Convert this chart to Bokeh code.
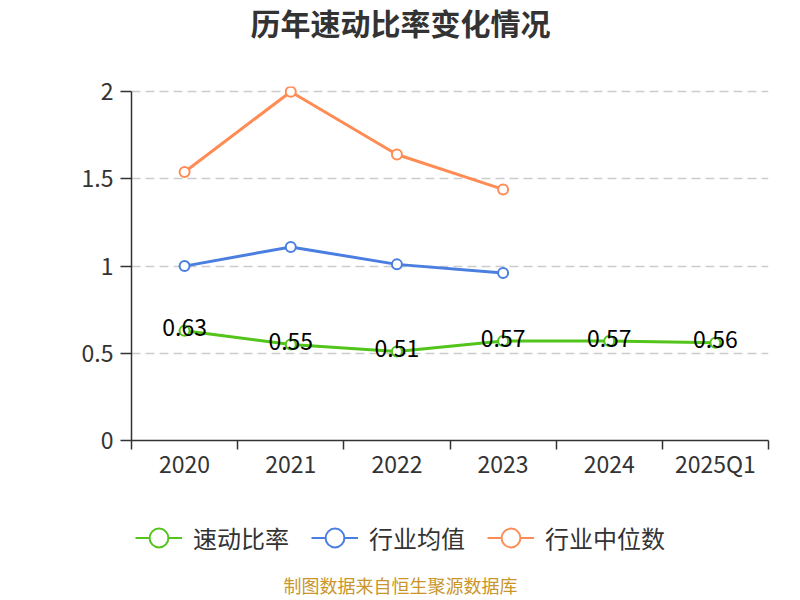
from bokeh.plotting import figure
from bokeh.layouts import column
from bokeh.models import (ColumnDataSource, FixedTicker, Range1d, Legend, LegendItem, Label)
from bokeh.core.properties import value
from bokeh.embed import file_html
from bokeh.resources import INLINE

categories = ["2020", "2021", "2022", "2023", "2024", "2025Q1"]
quick_ratio = [0.63, 0.55, 0.51, 0.57, 0.57, 0.56]
industry_mean = [1.00, 1.11, 1.01, 0.96]
industry_median = [1.54, 2.00, 1.64, 1.44]
y_ticks = [0, 0.5, 1, 1.5, 2]
y_tick_labels = ["0", "0.5", "1", "1.5", "2"]
series_names = ["速动比率", "行业均值", "行业中位数"]
title_text = "历年速动比率变化情况"
source_text = "制图数据来自恒生聚源数据库"

FONT = "Noto Sans CJK SC"
GREEN = "#52c41a"
BLUE = "#4a7ee0"
ORANGE = "#ff8c55"
W = 792
FL, FR = 131, 768  # frame left / right in page pixels


def blank(h):
    f = figure(width=W, height=h, output_backend="svg", toolbar_location=None,
               x_range=Range1d(FL, FR), y_range=Range1d(0, h),
               min_border_left=FL, min_border_right=W - FR,
               min_border_top=0, min_border_bottom=0)
    f.axis.visible = False
    f.grid.visible = False
    f.outline_line_color = None
    f.background_fill_color = "white"
    f.border_fill_color = "white"
    return f


# header with title
HH = 50
head = blank(HH)
head.add_layout(Label(x=400, y=HH - 21, text=title_text, text_align="center", text_baseline="middle",
                      text_font=FONT, text_font_size="30px", text_font_style="bold",
                      text_color="#333333"))

# main chart
xc = [i + 0.5 for i in range(len(categories))]
MH = 450
FTOP = 86
p = figure(width=W, height=MH, output_backend="svg", toolbar_location=None,
           x_range=Range1d(0, len(categories)), y_range=Range1d(0, 2.03),
           min_border_left=FL, min_border_right=W - FR, min_border_top=FTOP - HH,
           min_border_bottom=MH - (440 - HH))
p.outline_line_color = None
p.background_fill_color = "white"
p.border_fill_color = "white"

xa = p.xaxis[0]
xa.ticker = FixedTicker(ticks=xc, minor_ticks=list(range(len(categories) + 1)))
xa.major_label_overrides = {x: c for x, c in zip(xc, categories)}
xa.major_tick_line_color = None
xa.major_tick_in = 0
xa.major_tick_out = 0
xa.minor_tick_in = 0
xa.minor_tick_out = 9
xa.minor_tick_line_color = "#333333"
xa.minor_tick_line_width = 1.5
xa.axis_line_color = "#333333"
xa.axis_line_width = 1.5
xa.major_label_text_font = FONT
xa.major_label_text_font_size = "23px"
xa.major_label_text_color = "#333333"
xa.major_label_standoff = -4

ya = p.yaxis[0]
ya.ticker = FixedTicker(ticks=y_ticks)
ya.bounds = (0, 2)
ya.major_label_overrides = {v: s for v, s in zip(y_ticks, y_tick_labels)}
ya.major_tick_in = 0
ya.major_tick_out = 11
ya.major_tick_line_color = "#333333"
ya.major_tick_line_width = 1.5
ya.minor_tick_line_color = None
ya.axis_line_color = "#333333"
ya.axis_line_width = 1.5
ya.major_label_text_font = FONT
ya.major_label_text_font_size = "23px"
ya.major_label_text_color = "#333333"
ya.major_label_standoff = 7

p.xgrid.visible = False
p.ygrid.ticker = FixedTicker(ticks=y_ticks[1:])
p.ygrid.grid_line_color = "#cccccc"
p.ygrid.grid_line_dash = "9 5"
p.ygrid.grid_line_width = 1.5

series = [
    (quick_ratio, GREEN),
    (industry_mean, BLUE),
    (industry_median, ORANGE),
]
for vals, col in series[::-1]:
    src = ColumnDataSource(dict(x=xc[:len(vals)], y=vals))
    p.line("x", "y", source=src, line_color=col, line_width=3)
    p.scatter("x", "y", source=src, size=10, fill_color="white", line_color=col, line_width=2)

lab = ColumnDataSource(dict(x=xc, y=quick_ratio, t=[f"{v:.2f}" for v in quick_ratio]))
p.text("x", "y", text="t", source=lab, text_align="center", text_baseline="middle",
       text_font=value(FONT), text_font_size="23px", text_color="#000000", y_offset=-3)

# footer with legend and source note
FH = 98
foot = blank(FH)
items = []
for (vals, col), nm in zip(series, series_names):
    es = ColumnDataSource(dict(x=[-1000], y=[-1000]))
    r1 = foot.line("x", "y", source=es, line_color=col, line_width=2)
    r2 = foot.scatter("x", "y", source=es, size=19, fill_color="white", line_color=col, line_width=2)
    items.append(LegendItem(label=nm, renderers=[r1, r2]))
GL = 47
leg = Legend(items=items, orientation="horizontal", location=(135 - FL, FH - 37 - GL / 2),
             label_text_font=FONT, label_text_font_size="24px", label_text_color="#333333",
             glyph_width=GL, glyph_height=GL, label_height=GL, spacing=22, label_standoff=11,
             border_line_color=None, background_fill_alpha=0, margin=0, padding=0)
foot.add_layout(leg, "center")
foot.add_layout(Label(x=400, y=14, text=source_text, text_align="center", text_baseline="middle",
                      text_font=FONT, text_font_size="18px", text_color="#c9962b"))

layout = column(head, p, foot, spacing=0)
open("out.html", "w").write(file_html(layout, INLINE))
